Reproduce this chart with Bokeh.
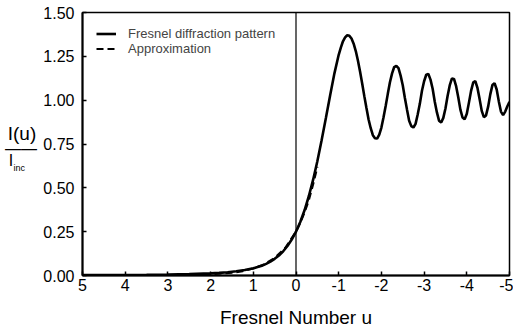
from bokeh.plotting import figure
from bokeh.models import Range1d, FixedTicker, Span, Label, Legend, LegendItem
from bokeh.layouts import row
from bokeh.embed import file_html
from bokeh.resources import INLINE

# Fresnel diffraction pattern
u_pattern = [5.0, 4.5, 4.0, 3.5, 3.0, 2.5, 2.0, 1.8, 1.6, 1.4, 1.2, 1.0, 0.9, 0.8, 0.7, 0.6,
             0.5, 0.4, 0.3, 0.2, 0.1, 0.0, -0.1, -0.2, -0.3, -0.4, -0.5, -0.6, -0.7, -0.8,
             -0.9, -1.0, -1.05, -1.1, -1.15, -1.2, -1.25, -1.3, -1.35, -1.4, -1.45, -1.5,
             -1.55, -1.6, -1.65, -1.7, -1.75, -1.8, -1.85, -1.9, -1.95, -2.0, -2.05, -2.1,
             -2.15, -2.2, -2.25, -2.3, -2.35, -2.4, -2.45, -2.5, -2.55, -2.6, -2.65, -2.7,
             -2.75, -2.8, -2.85, -2.9, -2.95, -3.0, -3.05, -3.1, -3.15, -3.2, -3.25, -3.3,
             -3.35, -3.4, -3.45, -3.5, -3.55, -3.6, -3.65, -3.7, -3.75, -3.8, -3.85, -3.9,
             -3.95, -4.0, -4.05, -4.1, -4.15, -4.2, -4.25, -4.3, -4.35, -4.4, -4.45, -4.5,
             -4.55, -4.6, -4.65, -4.7, -4.75, -4.8, -4.85, -4.9, -4.95, -5.0]
i_pattern = [0.002, 0.0025, 0.0032, 0.004, 0.0056, 0.008, 0.0123, 0.015, 0.0187, 0.024, 0.031,
             0.041, 0.048, 0.056, 0.0665, 0.079, 0.095, 0.114, 0.138, 0.168, 0.205, 0.25,
             0.305, 0.372, 0.452, 0.545, 0.652, 0.771, 0.898, 1.028, 1.153, 1.259, 1.30,
             1.336, 1.358, 1.370, 1.367, 1.352, 1.322, 1.280, 1.226, 1.164, 1.095, 1.023,
             0.955, 0.890, 0.840, 0.800, 0.783, 0.781, 0.803, 0.844, 0.903, 0.967, 1.036,
             1.102, 1.153, 1.189, 1.196, 1.183, 1.140, 1.085, 1.012, 0.946, 0.883, 0.852,
             0.844, 0.865, 0.918, 0.979, 1.054, 1.108, 1.145, 1.149, 1.117, 1.065, 0.991,
             0.930, 0.883, 0.873, 0.899, 0.952, 1.024, 1.084, 1.123, 1.121, 1.080, 1.017,
             0.946, 0.901, 0.891, 0.922, 0.986, 1.053, 1.101, 1.108, 1.070, 1.006, 0.939,
             0.903, 0.913, 0.963, 1.033, 1.086, 1.097, 1.061, 0.993, 0.935, 0.915, 0.935,
             0.965, 0.990]

# Approximation (dashed), mostly hidden under the pattern
u_approx = [5.0, 4.0, 3.0, 2.5, 2.0, 1.5, 1.25, 1.0, 0.75, 0.5, 0.25, 0.0, -0.1, -0.2, -0.3,
            -0.4, -0.5]
i_approx = [0.0, 0.0002, 0.001, 0.003, 0.007, 0.016, 0.025, 0.040, 0.063, 0.100, 0.158,
            0.25, 0.30, 0.36, 0.43, 0.52, 0.62]

x_ticks = [5, 4, 3, 2, 1, 0, -1, -2, -3, -4, -5]
x_tick_labels = ["5", "4", "3", "2", "1", "0", "-1", "-2", "-3", "-4", "-5"]
y_ticks = [0.0, 0.25, 0.5, 0.75, 1.0, 1.25, 1.5]
y_tick_labels = ["0.00", "0.25", "0.50", "0.75", "1.00", "1.25", "1.50"]

FONT = "Liberation Sans"
H = 332
LW = 40          # width of the strip holding the y-axis title
TOP, BOTTOM = 12, 275   # frame edges (px from top), shared by both plots in the row

# ---- strip with the fraction-style y-axis title (pixel-like coordinates) ----
lab = figure(width=LW, height=H, x_range=Range1d(0, LW), y_range=Range1d(H - BOTTOM, H - TOP),
             output_backend="svg", toolbar_location=None, min_border=0,
             min_border_top=TOP, min_border_bottom=H - BOTTOM,
             x_axis_location=None, y_axis_location=None)
lab.grid.visible = False
lab.outline_line_color = None
lab.add_layout(Label(x=21.5, y=H - 133, text="I(u)", text_align="center",
                     text_baseline="middle", text_font=FONT, text_font_size="19px",
                     text_color="black"))
lab.add_layout(Label(x=20.5, y=H - 148, text="\u2014\u2014", text_align="center",
                     text_baseline="middle", text_font=FONT, text_font_size="16px",
                     text_color="black"))
lab.add_layout(Label(x=10.5, y=H - 160, text="I", text_align="center",
                     text_baseline="middle", text_font=FONT, text_font_size="16px",
                     text_color="black"))
lab.add_layout(Label(x=13, y=H - 167, text="inc", text_align="left",
                     text_baseline="middle", text_font=FONT, text_font_size="9px",
                     text_color="black"))

# ---- main chart ----
p = figure(width=513 - LW, height=H, x_range=Range1d(5, -5), y_range=Range1d(0, 1.5),
           output_backend="svg", toolbar_location=None,
           min_border_left=81 - LW, min_border_right=4, min_border_top=TOP,
           min_border_bottom=H - BOTTOM)
p.xgrid.visible = False
p.ygrid.visible = False
p.outline_line_color = "black"
p.outline_line_width = 1.5

p.xaxis.ticker = FixedTicker(ticks=x_ticks)
p.xaxis.major_label_overrides = {t: s for t, s in zip(x_ticks, x_tick_labels)}
p.yaxis.ticker = FixedTicker(ticks=y_ticks)
p.yaxis.major_label_overrides = {t: s for t, s in zip(y_ticks, y_tick_labels)}

for ax in (p.xaxis, p.yaxis):
    ax.axis_line_width = 2
    ax.axis_line_color = "black"
    ax.major_tick_in = 4
    ax.major_tick_out = 0
    ax.major_tick_line_width = 1.5
    ax.minor_tick_line_color = None
    ax.major_label_text_font = FONT
    ax.major_label_text_font_size = "16px"
    ax.major_label_text_color = "black"

p.xaxis.major_label_standoff = 3
p.yaxis.major_label_standoff = 8
p.xaxis.axis_label = "Fresnel Number u"
p.xaxis.axis_label_text_font = FONT
p.xaxis.axis_label_text_font_size = "19px"
p.xaxis.axis_label_text_font_style = "normal"
p.xaxis.axis_label_text_color = "black"
p.xaxis.axis_label_standoff = 13

p.add_layout(Span(location=0, dimension="height", line_color="black", line_width=1.2))

r_pat = p.line(u_pattern, i_pattern, line_color="black", line_width=2.6)
r_app = p.line(u_approx, i_approx, line_color="black", line_width=2.2, line_dash="7 4")

legend = Legend(items=[LegendItem(label="Fresnel diffraction pattern", renderers=[r_pat]),
                       LegendItem(label="Approximation", renderers=[r_app])],
                location="top_left", border_line_color=None, background_fill_alpha=0,
                label_text_font=FONT, label_text_font_size="13px",
                glyph_width=20, glyph_height=13, label_height=13, spacing=0,
                padding=0, margin=14, label_standoff=12)
p.add_layout(legend)

layout = row(lab, p, spacing=0)
open("out.html", "w").write(file_html(layout, INLINE))
